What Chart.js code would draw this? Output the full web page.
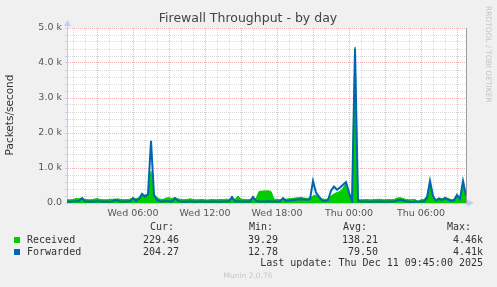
<!DOCTYPE html>
<html>
<head>
<meta charset="utf-8">
<script src="https://cdn.jsdelivr.net/npm/chart.js@4/dist/chart.umd.min.js"></script>
<style>
  html, body { margin: 0; padding: 0; background: #f0f0f0; }
  #wrap { width: 497px; height: 287px; }
</style>
</head>
<body>
<div id="wrap"><canvas id="fw" width="497" height="287"></canvas></div>
<script>
// ---------- DATA ----------
// 15 minute samples, Wed 00:30 -> Thu 09:45 (minutes counted from Wed 00:00)
const startMinute = 30;
const stepMinutes = 15;

const received = [
  95, 90, 100, 130, 120, 140, 100, 95, 90, 105,
  130, 100, 95, 90, 100, 110, 105, 120, 100, 95,
  100, 110, 140, 120, 150, 200, 230, 240, 900, 250,
  150, 110, 100, 140, 150, 130, 150, 120, 100, 95,
  100, 120, 100, 90, 95, 100, 90, 85, 100, 95,
  90, 100, 95, 110, 100, 130, 100, 200, 110, 100,
  95, 100, 130, 120, 330, 340, 345, 350, 330, 110,
  100, 95, 120, 110, 120, 130, 140, 150, 160, 140,
  130, 150, 200, 230, 150, 120, 100, 120, 200, 260,
  300, 330, 420, 570, 250, 100, 4460, 100, 90, 95,
  100, 90, 95, 100, 110, 95, 90, 100, 95, 100,
  140, 150, 130, 100, 90, 95, 100, 40, 95, 100,
  200, 600, 180, 100, 150, 120, 160, 130, 100, 110,
  220, 150, 600, 229.46
];

const forwarded = [
  40, 35, 45, 50, 60, 140, 50, 40, 45, 40,
  50, 40, 45, 40, 35, 40, 90, 60, 40, 45,
  40, 50, 140, 60, 120, 260, 180, 250, 1780, 230,
  90, 50, 40, 60, 50, 40, 140, 60, 40, 35,
  40, 45, 40, 35, 40, 45, 40, 35, 40, 45,
  40, 35, 40, 45, 50, 170, 45, 50, 40, 45,
  40, 45, 170, 60, 45, 40, 45, 50, 45, 40,
  40, 45, 140, 60, 70, 80, 90, 100, 110, 100,
  90, 110, 630, 300, 180, 70, 60, 80, 350, 470,
  380, 440, 520, 600, 300, 60, 4410, 60, 45, 40,
  40, 35, 45, 40, 45, 40, 35, 40, 45, 40,
  70, 90, 80, 45, 40, 13, 40, 45, 40, 45,
  150, 630, 200, 60, 120, 80, 140, 100, 60, 70,
  230, 120, 630, 204.27
];

const xTickMinutes = [360, 720, 1080, 1440, 1800];
const xTickLabels = ["Wed 06:00", "Wed 12:00", "Wed 18:00", "Thu 00:00", "Thu 06:00"];
const yTickValues = [0, 1000, 2000, 3000, 4000, 5000];
const yTickLabels = ["0.0", "1.0 k", "2.0 k", "3.0 k", "4.0 k", "5.0 k"];

const seriesNames = ["Received", "Forwarded"];
const seriesColors = ["#00cc00", "#0066b3"];
const curVals = ["229.46", "204.27"];
const minVals = ["39.29", "12.78"];
const avgVals = ["138.21", "79.50"];
const maxVals = ["4.46k", "4.41k"];

const xMin = 30, xMax = 2025;
const gridRed = "#f0b4b4";
const gridGray = "#dadada";
const axisBlue = "#c4cbf4";

function toPoints(arr) {
  return arr.map((v, i) => ({ x: startMinute + i * stepMinutes, y: v }));
}

// ---------- DECORATION PLUGIN ----------
const munin = {
  id: "munin",
  beforeDraw(chart) {
    const { ctx, chartArea: a } = chart;
    ctx.save();
    ctx.fillStyle = "#f0f0f0";
    ctx.fillRect(0, 0, chart.width, chart.height);
    ctx.fillStyle = "#ffffff";
    ctx.fillRect(a.left, a.top, a.right - a.left, a.bottom - a.top);
    ctx.restore();
  },
  afterDraw(chart) {
    const { ctx, chartArea: a } = chart;
    ctx.save();

    // right frame line
    ctx.strokeStyle = "#9a9a9a";
    ctx.lineWidth = 1;
    ctx.beginPath();
    ctx.moveTo(a.right + 0.5, a.top);
    ctx.lineTo(a.right + 0.5, a.bottom);
    ctx.stroke();

    // axis arrows
    ctx.strokeStyle = axisBlue;
    ctx.fillStyle = axisBlue;
    ctx.beginPath();
    ctx.moveTo(a.left + 0.5, a.top);
    ctx.lineTo(a.left + 0.5, a.top - 3);
    ctx.stroke();
    ctx.beginPath();
    ctx.moveTo(a.left - 3, a.top - 2);
    ctx.lineTo(a.left + 4, a.top - 2);
    ctx.lineTo(a.left + 0.5, a.top - 8);
    ctx.closePath();
    ctx.fill();
    ctx.beginPath();
    ctx.moveTo(a.right + 1, a.bottom + 3.5);
    ctx.lineTo(a.right + 1, a.bottom - 3.5);
    ctx.lineTo(a.right + 8, a.bottom);
    ctx.closePath();
    ctx.fill();

    // title
    ctx.fillStyle = "#444";
    ctx.font = "12.5px 'DejaVu Sans'";
    ctx.textAlign = "center";
    ctx.textBaseline = "middle";
    ctx.fillText("Firewall Throughput - by day", 248, 19);

    // y axis title
    ctx.save();
    ctx.translate(10, 115);
    ctx.rotate(-Math.PI / 2);
    ctx.font = "10.5px 'DejaVu Sans'";
    ctx.fillStyle = "#333";
    ctx.fillText("Packets/second", 0, 0);
    ctx.restore();

    // rrdtool watermark
    ctx.save();
    ctx.translate(487.5, 6);
    ctx.rotate(Math.PI / 2);
    ctx.font = "7.5px 'DejaVu Sans'";
    ctx.fillStyle = "#c4c4c4";
    ctx.textAlign = "left";
    ctx.fillText("RRDTOOL / TOBI OETIKER", 0, 0);
    ctx.restore();

    // legend table
    ctx.font = "10px 'DejaVu Sans Mono'";
    ctx.fillStyle = "#333";
    ctx.textAlign = "left";
    ctx.fillText("Cur:", 150, 227);
    ctx.fillText("Min:", 249, 227);
    ctx.fillText("Avg:", 343, 227);
    ctx.fillText("Max:", 447, 227);

    const rowY = [240, 252];
    seriesNames.forEach((name, i) => {
      const y = rowY[i];
      ctx.fillStyle = seriesColors[i];
      ctx.fillRect(14, y - 3, 6, 6);
      ctx.fillStyle = "#333";
      ctx.textAlign = "left";
      ctx.fillText(name, 27, y);
      ctx.textAlign = "right";
      ctx.fillText(curVals[i], 179, y);
      ctx.fillText(minVals[i], 278, y);
      ctx.fillText(avgVals[i], 378, y);
      ctx.fillText(maxVals[i], 483, y);
    });
    ctx.textAlign = "right";
    ctx.fillText("Last update: Thu Dec 11 09:45:00 2025", 483, 263);

    ctx.textAlign = "center";
    ctx.font = "7.5px 'DejaVu Sans'";
    ctx.fillStyle = "#c8c8c8";
    ctx.fillText("Munin 2.0.76", 248, 276);

    ctx.restore();
  }
};

// ---------- CHART ----------
new Chart(document.getElementById("fw"), {
  type: "line",
  data: {
    datasets: [
      {
        label: seriesNames[0],
        data: toPoints(received),
        borderColor: seriesColors[0],
        backgroundColor: seriesColors[0],
        borderWidth: 1,
        fill: "origin",
        pointRadius: 0,
        tension: 0,
        order: 2
      },
      {
        label: seriesNames[1],
        data: toPoints(forwarded),
        borderColor: seriesColors[1],
        borderWidth: 2,
        fill: false,
        pointRadius: 0,
        tension: 0,
        order: 1
      }
    ]
  },
  options: {
    responsive: false,
    animation: false,
    devicePixelRatio: 1,
    layout: { padding: { top: 28, right: 31, left: 0, bottom: 0 } },
    plugins: {
      legend: { display: false },
      title: { display: false },
      tooltip: { enabled: false }
    },
    scales: {
      x: {
        type: "linear",
        min: xMin,
        max: xMax,
        afterBuildTicks(scale) {
          const t = [];
          for (let m = 60; m < xMax; m += 60) t.push({ value: m });
          scale.ticks = t;
        },
        afterFit(scale) { scale.height = 84; },
        ticks: {
          autoSkip: false,
          maxRotation: 0,
          padding: 3,
          color: "#555",
          font: { family: "'DejaVu Sans'", size: 9.5 },
          callback: (v) => {
            const k = xTickMinutes.indexOf(v);
            return k >= 0 ? xTickLabels[k] : "";
          }
        },
        grid: {
          color: (c) => (c.tick && c.tick.value % 180 === 0 ? gridRed : gridGray),
          tickLength: 2,
          tickColor: axisBlue,
          lineWidth: 1
        },
        border: { color: axisBlue, width: 1, dash: [1, 1] }
      },
      y: {
        type: "linear",
        min: 0,
        max: 5000,
        afterBuildTicks(scale) {
          const t = [];
          for (let v = 0; v <= 5000; v += 200) t.push({ value: v });
          scale.ticks = t;
        },
        afterFit(scale) { scale.width = 67; },
        ticks: {
          autoSkip: false,
          padding: 3,
          color: "#555",
          font: { family: "'DejaVu Sans'", size: 9.5 },
          callback: (v) => {
            const k = yTickValues.indexOf(v);
            return k >= 0 ? yTickLabels[k] : "";
          }
        },
        grid: {
          color: (c) => {
            if (!c.tick || c.tick.value === 0) return "rgba(0,0,0,0)";
            return c.tick.value % 1000 === 0 ? gridRed : gridGray;
          },
          tickLength: 2,
          tickColor: axisBlue,
          lineWidth: 1
        },
        border: { color: axisBlue, width: 1, dash: [1, 1] }
      }
    }
  },
  plugins: [munin]
});
</script>
</body>
</html>
